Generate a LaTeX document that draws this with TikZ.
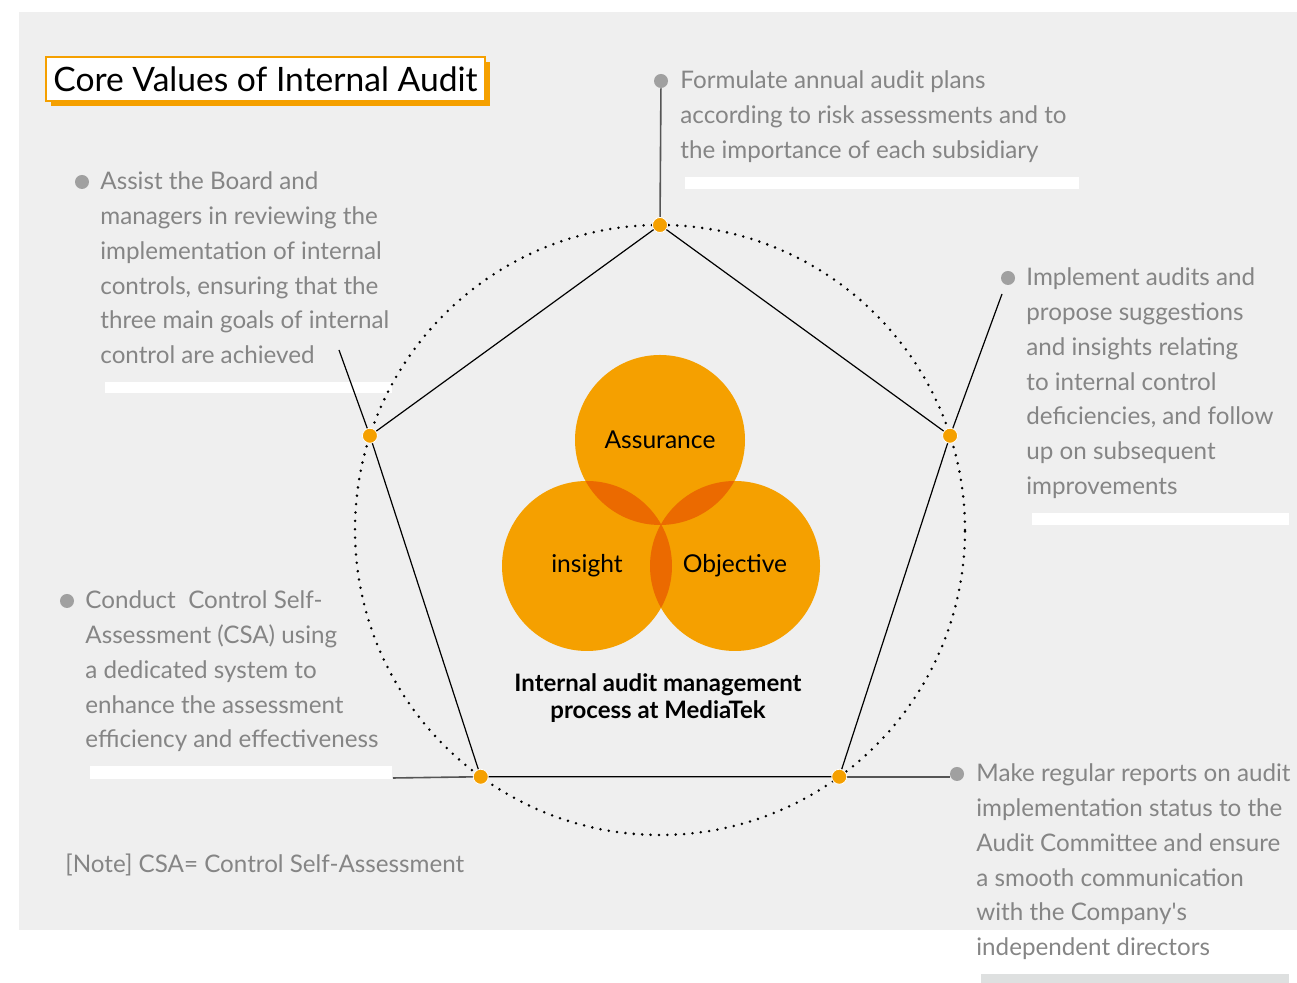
\documentclass[tikz,border=0pt]{standalone}
\usepackage{fontspec}
\setmainfont{Lato}
\usepackage{tikz}
\usetikzlibrary{calc,shadows}
\definecolor{auditorange}{HTML}{F5A000}
\definecolor{auditdeep}{HTML}{EB6A00}
\definecolor{panelgray}{HTML}{EFEFEF}
\definecolor{textgray}{HTML}{858585}
\definecolor{dotgray}{HTML}{A0A0A0}
\definecolor{leadgray}{HTML}{555555}
\definecolor{bargray}{HTML}{DEE0E0}

\begin{document}
\begin{tikzpicture}[x=0.5pt,y=0.5pt,
  vertexdot/.style={circle,fill=auditorange,draw=white,line width=0.4pt,minimum size=7.5pt,inner sep=0pt},
  bulletdot/.style={circle,fill=dotgray,minimum size=7pt,inner sep=0pt},
  bodytext/.style={anchor=base west,align=left,inner sep=0pt,text=textgray,font=\fontsize{12.1}{17.35}\selectfont},
  venn/.style={circle,fill=auditorange,minimum size=85pt,inner sep=0pt,font=\fontsize{12.3}{14}\selectfont},
  edge/.style={line width=0.6pt},
  leader/.style={leadgray,line width=0.8pt}]
\useasboundingbox (0,0) rectangle (1297,983);
\fill[panelgray] (19,53) rectangle (1297,971);
% white bars under the texts
\fill[white] (105,590) rectangle (392,601);
\fill[white] (685,794) rectangle (1079,806);
\fill[white] (1032,458) rectangle (1289,470);
\fill[white] (90,204) rectangle (392,217);
\fill[bargray] (981,0) rectangle (1289,9);

% circle and pentagon
\coordinate (mid) at (660,453);
\draw[line width=1.4pt,line cap=round,dash pattern=on 0pt off 4.2pt] (mid) circle (305);
\foreach \a/\n in {90/ptop,18/pright,-54/pbright,234/pbleft,162/pleft}
  \coordinate (\n) at ($(mid)+(\a:305)$);
\draw[edge] (ptop) -- (pright) -- (pbright) -- (pbleft) -- (pleft) -- cycle;

% leaders
\coordinate (lr) at (1002,689);
\coordinate (ll) at (339,633);
\coordinate (lb) at (393,205);
\node[bulletdot] (b1) at (82,801) {};
\node[bulletdot] (b2) at (661,902) {};
\node[bulletdot] (b3) at (1008,705) {};
\node[bulletdot] (b4) at (67,382) {};
\node[bulletdot] (b5) at (957,209) {};
\draw[edge] (pright) -- (lr);
\draw[edge] (pleft) -- (ll);
\draw[leader] (pbleft) -- (lb);
\draw[leader] (ptop) -- (b2);
\draw[leader] (pbright) -- (pbright -| b5.west);

% venn
\node[venn] (ass) at (660,543) {Assurance};
\node[venn] (ins) at (587,417) {insight};
\node[venn] (obj) at (735,417) {Objective};
\begin{scope}
  \clip (ass.center) circle (85);
  \fill[auditdeep] (ins.center) circle (85) (obj.center) circle (85);
\end{scope}
\begin{scope}
  \clip (ins.center) circle (85);
  \fill[auditdeep] (obj.center) circle (85);
\end{scope}
\node[font=\bfseries\fontsize{12}{13.8}\selectfont,align=center] (cap) at (658,285)
  {Internal audit management\\process at MediaTek};

\foreach \n in {ptop,pright,pbright,pbleft,pleft}
  \node[vertexdot] (d\n) at (\n) {};

% texts (base = last line)
\node[draw=auditorange,fill=white,line width=0.6pt,minimum width=219.5pt,minimum height=22pt,
  inner sep=0pt,font=\fontsize{16.8}{20}\selectfont,
  drop shadow={shadow xshift=2.5pt,shadow yshift=-2.5pt,fill=auditorange,opacity=1}]
  (title) at (265.5,904) {Core Values of Internal Audit};
\node[bodytext] (t1) at (100,619.5) {Assist the Board and\\managers in reviewing the\\implementation of internal\\controls, ensuring that the\\three main goals of internal\\control are achieved};
\node[bodytext] (t2) at (680,824.6) {Formulate annual audit plans\\according to risk assessments and to\\the importance of each subsidiary};
\node[bodytext] (t3) at (1026,488.8) {Implement audits and\\propose suggestions\\and insights relating\\to internal control\\deficiencies, and follow\\up on subsequent\\improvements};
\node[bodytext] (t4) at (85,235.2) {Conduct\ \ Control Self-\\Assessment (CSA) using\\a dedicated system to\\enhance the assessment\\efficiency and effectiveness};
\node[bodytext] (t5) at (976,27.5) {Make regular reports on audit\\implementation status to the\\Audit Committee and ensure\\a smooth communication\\with the Company\textquotesingle s\\independent directors};
\node[bodytext] (note) at (65,110) {[Note] CSA= Control Self-Assessment};
\end{tikzpicture}
\end{document}
